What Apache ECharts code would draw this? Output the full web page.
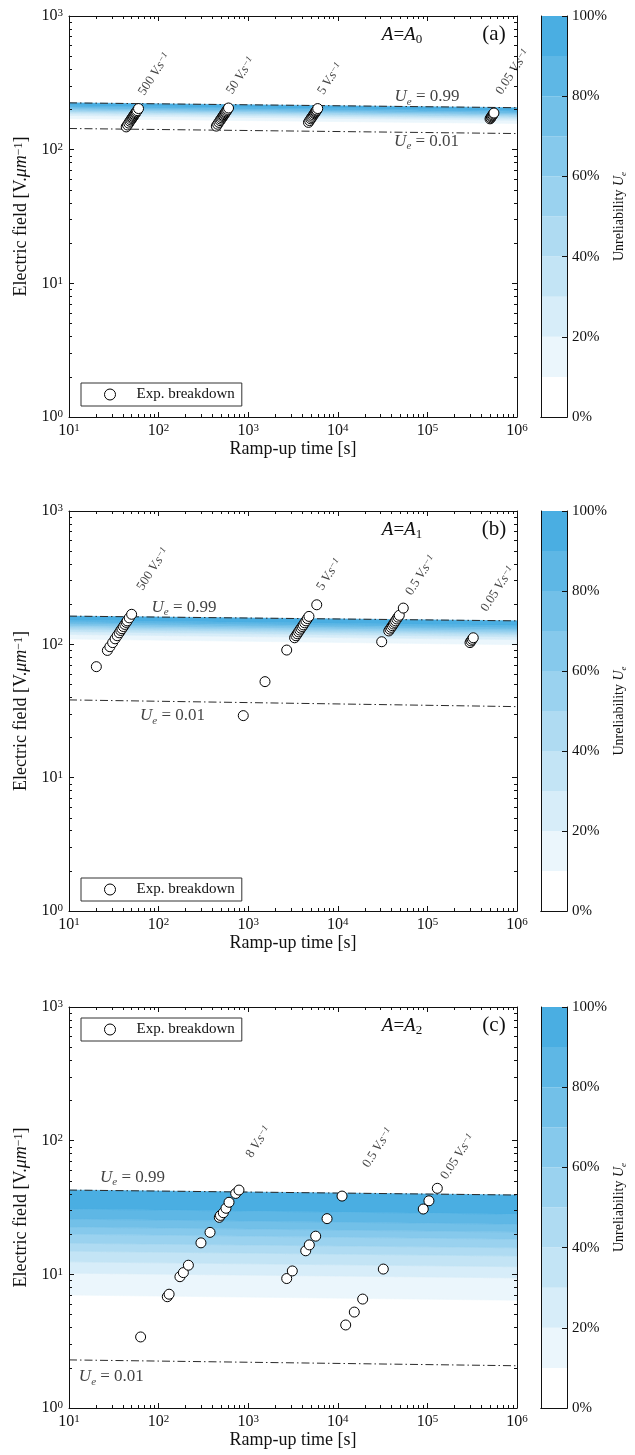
<!DOCTYPE html>
<html><head><meta charset="utf-8">
<script src="https://cdn.jsdelivr.net/npm/echarts@6/dist/echarts.min.js"></script>
<style>html,body{margin:0;padding:0;background:#fff}#c{width:635px;height:1455px}</style>
</head><body><div id="c"></div>
<script>
// ---------------- data ----------------
const xTickExp = ['1', '2', '3', '4', '5', '6'];
const yTickExp = ['0', '1', '2', '3'];
const cbTickLabels = ['0%', '20%', '40%', '60%', '80%', '100%'];
const unreliabilityLevels = [0.01, 0.1, 0.2, 0.3, 0.4, 0.5, 0.6, 0.7, 0.8, 0.9, 0.99];
const contourTimes = [10, 1000000];
const cbBand = [10, 10, 10, 10, 10, 10, 10, 10, 10, 10];

// Panel (a)  A = A0
const aLevelStart = [144, 170.6, 180.1, 186.3, 191.2, 195.4, 199.4, 203.3, 207.6, 213.1, 224];
const aLevelEnd   = [132, 157, 165.7, 171.4, 175.9, 179.8, 183.4, 187, 191, 196, 206];
const aTime  = [43.5, 45.0, 46.5, 47.9, 49.1, 50.3, 51.2, 52.1, 52.9, 53.8, 54.7, 55.6, 56.5, 57.6, 59.7,
                441, 456, 471, 485, 497, 509, 521, 529, 538, 547, 556, 565, 576, 588, 603,
                4706, 4853, 5000, 5118, 5235, 5353, 5471, 5559, 5647, 5735, 5824, 5971,
                500000, 509000, 518000, 526000, 535000, 544000, 553000];
const aField = [148, 153, 158, 163, 167, 171, 174, 177, 180, 183, 186, 189, 192, 196, 203,
                150, 155, 160, 165, 169, 173, 177, 180, 183, 186, 189, 192, 196, 200, 205,
                160, 165, 170, 174, 178, 182, 186, 189, 192, 195, 198, 203,
                170, 173, 176, 179, 182, 185, 188];
const aRateText  = ['500', '50', '5', '0.05'];
const aRateTime  = [74, 710, 7400, 720000];
const aRateField = [245, 250, 248, 248];
const aUeTime  = [99000, 98000];
const aUeField = [249, 115];

// Panel (b)  A = A1
const bLevelStart = [38.3, 109.6, 118.6, 124.5, 129.4, 133.6, 137.5, 141.4, 145.8, 151.4, 162.8];
const bLevelEnd   = [34.1, 99.3, 108.5, 114, 118.4, 122.2, 125.8, 129.4, 133.4, 138.5, 150];
const bTime  = [20.2, 26.8, 28.6, 30.7, 32.7, 34.5, 36.3, 37.8, 39.0, 40.5, 42.0, 43.5, 44.6, 47.0, 50.0,
                881, 1540, 2690, 3294, 3412, 3529, 3647, 3765, 3882, 4000, 4118, 4265, 4412, 4588, 4765, 5820,
                30900, 37060, 38240, 39410, 40590, 41760, 42940, 44120, 45590, 47060, 48530, 53800,
                299000, 307000, 316000, 325000];
const bField = [68, 90, 96, 103, 110, 116, 122, 127, 131, 136, 141, 146, 150, 158, 168,
                29.2, 52.5, 90.6, 112, 116, 120, 124, 128, 132, 136, 140, 145, 150, 156, 162, 198,
                104.6, 126, 130, 134, 138, 142, 146, 150, 155, 160, 165, 187,
                103, 106, 109, 112];
const bRateText  = ['500', '5', '0.5', '0.05'];
const bRateTime  = [71, 7200, 71000, 490000];
const bRateField = [244, 244, 224, 169];
const bUeTime  = [192, 143];
const bUeField = [189, 29.2];

// Panel (c)  A = A2
const cLevelStart = [2.29, 7.0, 10.2, 12.4, 14.9, 17.1, 20.0, 22.6, 25.9, 30.8, 42.7];
const cLevelEnd   = [2.07, 6.4, 9.4, 11.4, 13.7, 15.8, 18.3, 20.7, 23.7, 28.2, 39.2];
const cTime  = [63, 125, 131, 173, 189, 215, 297, 375, 476, 490, 527, 565, 611, 725, 789,
                2690, 3107, 4385, 4810, 5665, 7585, 11150, 12250, 15280, 18950, 32200,
                89900, 104000, 129000];
const cField = [3.4, 6.8, 7.1, 9.6, 10.3, 11.7, 17.2, 20.6, 26.7, 27.6, 28.9, 31.2, 34.6, 40.3, 42.7,
                9.3, 10.6, 15.0, 16.6, 19.3, 26.1, 38.5, 4.18, 5.22, 6.53, 10.95,
                30.8, 35.5, 44.0];
const cRateText  = ['8', '0.5', '0.05'];
const cRateTime  = [1170, 23500, 175000];
const cRateField = [71.6, 60.3, 49.3];
const cUeTime  = [51.2, 29.7];
const cUeField = [53.2, 1.71];

// ---------------- styling ----------------
const levelColors = ['#ffffff', '#ebf6fc', '#d7edf9', '#c3e4f5', '#afdbf2', '#9ad2ef', '#86c9ec', '#72c0e8', '#5eb7e5', '#4aaee2'];
const FONT = '"Liberation Serif", "DejaVu Serif", serif';
const INK = '#111';

const panels = [
  {top: 16,   height: 401, t: aTime, E: aField, lS: aLevelStart, lE: aLevelEnd, rT: aRateText, rX: aRateTime, rY: aRateField, uX: aUeTime, uY: aUeField, A: '0', tag: '(a)', legendTop: 383},
  {top: 511,  height: 400, t: bTime, E: bField, lS: bLevelStart, lE: bLevelEnd, rT: bRateText, rX: bRateTime, rY: bRateField, uX: bUeTime, uY: bUeField, A: '1', tag: '(b)', legendTop: 878},
  {top: 1007, height: 401, t: cTime, E: cField, lS: cLevelStart, lE: cLevelEnd, rT: cRateText, rX: cRateTime, rY: cRateField, uX: cUeTime, uY: cUeField, A: '2', tag: '(c)', legendTop: 1018}
];

const xMinor = [], yMinor = [];
for (let d = 10; d < 1000000; d *= 10) for (let m = 2; m <= 9; m++) xMinor.push(m * d);
for (let d = 1; d < 1000; d *= 10) for (let m = 2; m <= 9; m++) yMinor.push(m * d);

const supRich = {
  b: {fontSize: 16, fontFamily: FONT, color: INK},
  s: {fontSize: 11, fontFamily: FONT, color: INK, verticalAlign: 'top'}
};

const grid = [], xAxis = [], yAxis = [], series = [], legend = [], graphic = [];

panels.forEach((p, i) => {
  grid.push({left: 69, top: p.top, width: 448, height: p.height});
  const lineStyle = {color: INK, width: 1};
  const common = {type: 'log', logBase: 10, gridIndex: i, splitLine: {show: false}, z: 10};
  const xc = Object.assign({}, common, {min: 10, max: 1000000});
  const yc = Object.assign({}, common, {min: 1, max: 1000});
  // x axes
  xAxis.push(Object.assign({}, xc, {
    position: 'bottom',
    axisLine: {show: true, onZero: false, lineStyle},
    axisTick: {show: true, inside: true, length: 5, lineStyle},
    axisLabel: {margin: 6, color: INK, formatter: v => '{b|10}{s|' + xTickExp[Math.round(Math.log10(v)) - 1] + '}', rich: supRich},
    name: 'Ramp-up time [s]', nameLocation: 'middle', nameGap: 20,
    nameTextStyle: {fontSize: 18, fontFamily: FONT, color: INK}
  }));
  xAxis.push(Object.assign({}, xc, {
    position: 'top',
    axisLine: {show: true, onZero: false, lineStyle},
    axisTick: {show: true, inside: true, length: 5, lineStyle},
    axisLabel: {show: false}
  }));
  xAxis.push(Object.assign({}, xc, {
    position: 'bottom', axisLine: {show: false},
    axisTick: {show: true, inside: true, length: 3, lineStyle, customValues: xMinor},
    axisLabel: {show: false}
  }));
  xAxis.push(Object.assign({}, xc, {
    position: 'top', axisLine: {show: false},
    axisTick: {show: true, inside: true, length: 3, lineStyle, customValues: xMinor},
    axisLabel: {show: false}
  }));
  // y axes
  yAxis.push(Object.assign({}, yc, {
    position: 'left',
    axisLine: {show: true, onZero: false, lineStyle},
    axisTick: {show: true, inside: true, length: 5, lineStyle},
    axisLabel: {margin: 6, color: INK, formatter: v => '{b|10}{s|' + yTickExp[Math.round(Math.log10(v))] + '}', rich: supRich},
    name: 'Electric field [V.{i|μm}{s|−1}]', nameLocation: 'middle', nameGap: 35,
    nameTextStyle: {fontSize: 18, fontFamily: FONT, color: INK,
      rich: {i: {fontSize: 18, fontFamily: FONT, fontStyle: 'italic', color: INK}, s: {fontSize: 12, fontFamily: FONT, color: INK, verticalAlign: 'top'}}}
  }));
  yAxis.push(Object.assign({}, yc, {
    position: 'right',
    axisLine: {show: true, onZero: false, lineStyle},
    axisTick: {show: true, inside: true, length: 5, lineStyle},
    axisLabel: {show: false}
  }));
  yAxis.push(Object.assign({}, yc, {
    position: 'left', axisLine: {show: false},
    axisTick: {show: true, inside: true, length: 3, lineStyle, customValues: yMinor},
    axisLabel: {show: false}
  }));
  yAxis.push(Object.assign({}, yc, {
    position: 'right', axisLine: {show: false},
    axisTick: {show: true, inside: true, length: 3, lineStyle, customValues: yMinor},
    axisLabel: {show: false}
  }));

  const xi = 4 * i, yi = 4 * i;

  // contour bands (between consecutive unreliability levels)
  const bands = [];
  for (let k = 0; k < unreliabilityLevels.length - 1; k++) {
    bands.push([contourTimes[0], p.lS[k], contourTimes[1], p.lE[k], p.lS[k + 1], p.lE[k + 1], k + 1]);
  }
  series.push({
    type: 'custom', xAxisIndex: xi, yAxisIndex: yi, clip: true, z: 1, silent: true,
    data: bands, encode: {x: [0, 2], y: [1, 3, 4, 5]},
    renderItem: (params, api) => {
      const p1 = api.coord([api.value(0), api.value(1)]);
      const p2 = api.coord([api.value(2), api.value(3)]);
      const p3 = api.coord([api.value(2), api.value(5)]);
      const p4 = api.coord([api.value(0), api.value(4)]);
      const c = levelColors[Math.min(api.value(6) - 1, levelColors.length - 1)];
      return {type: 'polygon', shape: {points: [p1, p2, p3, p4]}, style: {fill: c, stroke: c, lineWidth: 0.6}};
    }
  });

  // Ue = 0.01 and 0.99 dash-dot lines
  [0, unreliabilityLevels.length - 1].forEach(k => {
    series.push({
      type: 'line', xAxisIndex: xi, yAxisIndex: yi, z: 3, silent: true, showSymbol: false, symbol: 'none',
      data: [[contourTimes[0], p.lS[k]], [contourTimes[1], p.lE[k]]],
      lineStyle: {color: '#2a2a2a', width: 1, type: [8, 3, 1.5, 3]}
    });
  });

  // experimental points
  series.push({
    name: 'Exp. breakdown', type: 'scatter', xAxisIndex: xi, yAxisIndex: yi, z: 4,
    symbol: 'circle', symbolSize: 10,
    itemStyle: {color: '#fff', borderColor: '#000', borderWidth: 1, opacity: 1},
    data: p.t.map((t, j) => [t, p.E[j]])
  });

  // ramp-rate labels
  series.push({
    type: 'scatter', xAxisIndex: xi, yAxisIndex: yi, z: 5, silent: true, symbolSize: 0,
    data: p.rX.map((t, j) => ({value: [t, p.rY[j]], name: p.rT[j]})),
    label: {
      show: true, position: [0, 0], rotate: 57, align: 'left', verticalAlign: 'bottom',
      formatter: d => '{n|' + d.name + ' }{i|V.s}{s|−1}',
      rich: {
        n: {fontSize: 13, fontFamily: FONT, color: INK},
        i: {fontSize: 13, fontFamily: FONT, fontStyle: 'italic', color: INK},
        s: {fontSize: 9, fontFamily: FONT, fontStyle: 'italic', color: INK, verticalAlign: 'top'}
      }
    }
  });

  // Ue labels
  series.push({
    type: 'scatter', xAxisIndex: xi, yAxisIndex: yi, z: 5, silent: true, symbolSize: 0,
    data: p.uX.map((t, j) => ({value: [t, p.uY[j]], name: j === 0 ? '0.99' : '0.01'})),
    label: {
      show: true, position: [0, 0], align: 'center', verticalAlign: 'middle',
      formatter: d => '{i|U}{e|e}{n| = ' + d.name + '}',
      rich: {
        i: {fontSize: 17, fontFamily: FONT, fontStyle: 'italic', color: INK, lineHeight: 21},
        e: {fontSize: 11, fontFamily: FONT, fontStyle: 'italic', color: INK, verticalAlign: 'bottom', lineHeight: 12},
        n: {fontSize: 17, fontFamily: FONT, color: INK, lineHeight: 21}
      }
    }
  });

  // legend
  legend.push({
    left: 81, top: p.legendTop, orient: 'horizontal',
    data: ['Exp. breakdown'], icon: 'circle', itemWidth: 11, itemHeight: 11,
    itemStyle: {color: '#fff', borderColor: '#000', borderWidth: 1},
    backgroundColor: '#fff', borderColor: '#333', borderWidth: 1, borderRadius: 0,
    padding: [4, 7, 4, 23], selectedMode: false,
    formatter: n => '{g| }{t|' + n + '}',
    textStyle: {fontSize: 15, fontFamily: FONT, color: INK,
      rich: {g: {width: 16}, t: {fontSize: 15, fontFamily: FONT, color: INK}}}
  });

  // panel annotations
  graphic.push({
    type: 'text', x: 402, y: p.top + 19, z: 20,
    style: {
      text: '{i|A}{n|=}{i|A}{s|' + p.A + '}', align: 'center', verticalAlign: 'middle',
      rich: {
        i: {fontSize: 19, fontFamily: FONT, fontStyle: 'italic', fill: INK, lineHeight: 23},
        n: {fontSize: 19, fontFamily: FONT, fill: INK, lineHeight: 23},
        s: {fontSize: 13, fontFamily: FONT, fill: INK, verticalAlign: 'bottom', lineHeight: 13}
      }
    }
  });
  graphic.push({
    type: 'text', x: 494, y: p.top + 18, z: 20,
    style: {text: p.tag, align: 'center', verticalAlign: 'middle', fontSize: 21, fontFamily: FONT, fill: INK}
  });
});

// colour bars
panels.forEach((p, i) => {
  const gi = 3 + i;
  grid.push({left: 541, top: p.top, width: 26, height: p.height});
  const lineStyle = {color: INK, width: 1};
  const xi = xAxis.length, yi = yAxis.length;
  xAxis.push({type: 'category', gridIndex: gi, data: ['U'], position: 'bottom', z: 10,
    axisLine: {show: true, lineStyle}, axisTick: {show: false}, axisLabel: {show: false}, splitLine: {show: false}});
  xAxis.push({type: 'category', gridIndex: gi, data: ['U'], position: 'top', z: 10,
    axisLine: {show: true, lineStyle}, axisTick: {show: false}, axisLabel: {show: false}, splitLine: {show: false}});
  yAxis.push({type: 'value', gridIndex: gi, min: 0, max: 100, interval: 20, position: 'right', z: 10,
    axisLine: {show: true, lineStyle}, axisTick: {show: true, inside: true, length: 5, lineStyle},
    axisLabel: {margin: 5, color: INK, fontSize: 15, fontFamily: FONT, formatter: v => cbTickLabels[Math.round(v / 20)]},
    splitLine: {show: false},
    name: 'Unreliability {i|U}{e|e}', nameLocation: 'middle', nameGap: 43, nameRotate: 90,
    nameTextStyle: {fontSize: 14, fontFamily: FONT, color: INK,
      rich: {i: {fontSize: 14, fontFamily: FONT, fontStyle: 'italic', color: INK, lineHeight: 18},
             e: {fontSize: 9, fontFamily: FONT, fontStyle: 'italic', color: INK, verticalAlign: 'bottom', lineHeight: 10}}}
  });
  yAxis.push({type: 'value', gridIndex: gi, min: 0, max: 100, position: 'left', z: 10,
    axisLine: {show: true, lineStyle}, axisTick: {show: false}, axisLabel: {show: false}, splitLine: {show: false}});
  cbBand.forEach((v, k) => {
    series.push({
      type: 'bar', xAxisIndex: xi, yAxisIndex: yi, stack: 'cb' + i, data: [v],
      barWidth: '100%', barCategoryGap: 0, silent: true, z: 1,
      itemStyle: {color: levelColors[k]}
    });
  });
});

const chart = echarts.init(document.getElementById('c'), null, {renderer: 'canvas'});
chart.setOption({
  animation: false,
  backgroundColor: '#fff',
  textStyle: {fontFamily: FONT},
  grid, xAxis, yAxis, series, legend, graphic
});
</script>
</body></html>
